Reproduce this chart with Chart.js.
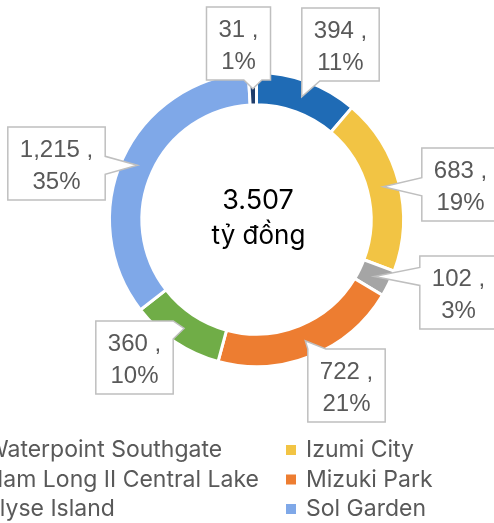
<!DOCTYPE html>
<html>
<head>
<meta charset="utf-8">
<script src="https://cdn.jsdelivr.net/npm/chart.js@4.4.1/dist/chart.umd.min.js"></script>
<style>
  html, body { margin: 0; padding: 0; background: #fff; overflow: hidden; }
  #wrap { width: 494px; height: 523px; }
</style>
</head>
<body>
<div id="wrap"><canvas id="donutChart" width="494" height="523"></canvas></div>
<script>
// data
const categories = ['Waterpoint Southgate', 'Izumi City', 'Nam Long II Central Lake', 'Mizuki Park', 'Elyse Island', 'Sol Garden', 'Akari City'];
const values = [394, 683, 102, 722, 360, 1215, 31];
const sliceColors = ['#1F6BB5', '#F2C444', '#A5A5A5', '#ED7D31', '#70AD47', '#7FA8E8', '#1F3D6B'];
const centerLines = ['3.507', 'tỷ đồng'];

// callout box centres, relative to the donut centre (layout only)
const labelOffsets = [[84, -175], [204, -35], [202, 73], [90, 166], [-122, 138], [-200, -56], [-18, -176]];

const total = values.reduce((a, b) => a + b, 0);

const calloutPlugin = {
  id: 'callouts',
  afterDatasetsDraw(chart) {
    const ctx = chart.ctx;
    const meta = chart.getDatasetMeta(0);
    const arc0 = meta.data[0];
    const cx = arc0.x, cy = arc0.y;
    ctx.save();
    ctx.font = '24px "Liberation Sans", Arial, sans-serif';
    meta.data.forEach((arc, i) => {
      const tip = arc.tooltipPosition();
      const line1 = values[i].toLocaleString('en-US') + ' ,';
      const line2 = Math.round(values[i] / total * 100) + '%';
      const w = Math.max(ctx.measureText(line1).width, ctx.measureText(line2).width) + 24;
      const h = 73;
      const bx = cx + labelOffsets[i][0] - w / 2;
      const by = cy + labelOffsets[i][1] - h / 2;
      const L = bx, R = bx + w, T = by, B = by + h;
      // pick the edge that faces the anchor
      const ex = { left: L - tip.x, right: tip.x - R, top: T - tip.y, bottom: tip.y - B };
      let side = 'bottom', best = -Infinity;
      for (const k in ex) { if (ex[k] > best) { best = ex[k]; side = k; } }
      const hw = 9;
      const clamp = (v, a, b) => Math.min(Math.max(v, a), b);
      ctx.beginPath();
      if (side === 'bottom') {
        const m = clamp(tip.x, L + hw, R - hw);
        ctx.moveTo(L, T); ctx.lineTo(R, T); ctx.lineTo(R, B);
        ctx.lineTo(m + hw, B); ctx.lineTo(tip.x, tip.y); ctx.lineTo(m - hw, B);
        ctx.lineTo(L, B); ctx.closePath();
      } else if (side === 'top') {
        const m = clamp(tip.x, L + hw, R - hw);
        ctx.moveTo(L, T); ctx.lineTo(m - hw, T); ctx.lineTo(tip.x, tip.y); ctx.lineTo(m + hw, T);
        ctx.lineTo(R, T); ctx.lineTo(R, B); ctx.lineTo(L, B); ctx.closePath();
      } else if (side === 'left') {
        const m = clamp(tip.y, T + hw, B - hw);
        ctx.moveTo(L, T); ctx.lineTo(R, T); ctx.lineTo(R, B); ctx.lineTo(L, B);
        ctx.lineTo(L, m + hw); ctx.lineTo(tip.x, tip.y); ctx.lineTo(L, m - hw); ctx.closePath();
      } else {
        const m = clamp(tip.y, T + hw, B - hw);
        ctx.moveTo(L, T); ctx.lineTo(R, T); ctx.lineTo(R, m - hw); ctx.lineTo(tip.x, tip.y);
        ctx.lineTo(R, m + hw); ctx.lineTo(R, B); ctx.lineTo(L, B); ctx.closePath();
      }
      ctx.fillStyle = '#FFFFFF';
      ctx.fill();
      ctx.strokeStyle = '#BFBFBF';
      ctx.lineWidth = 1.5;
      ctx.stroke();
      ctx.fillStyle = '#595959';
      ctx.textAlign = 'center';
      ctx.textBaseline = 'alphabetic';
      const mx = bx + w / 2;
      ctx.fillText(line1, mx, by + 30);
      ctx.fillText(line2, mx, by + 62);
    });
    ctx.restore();
  }
};

const centerPlugin = {
  id: 'centerText',
  afterDraw(chart) {
    const ctx = chart.ctx;
    const arc0 = chart.getDatasetMeta(0).data[0];
    ctx.save();
    ctx.fillStyle = '#000000';
    ctx.textAlign = 'center';
    ctx.font = '27px Inter, sans-serif';
    ctx.fillText(centerLines[0], arc0.x + 1.5, arc0.y - 10.5);
    ctx.font = '26px Inter, sans-serif';
    ctx.fillText(centerLines[1], arc0.x + 2, arc0.y + 24.5);
    ctx.restore();
  }
};

const legendPlugin = {
  id: 'twoColLegend',
  afterDraw(chart) {
    const ctx = chart.ctx;
    ctx.save();
    ctx.font = '23px Inter, sans-serif';
    ctx.textBaseline = 'alphabetic';
    const left = categories.filter((_, i) => i % 2 === 0);
    const maxW = Math.max(...left.map(t => ctx.measureText(t).width));
    const col2Marker = 286;
    const col1Marker = col2Marker - 27 - maxW - 20;
    categories.forEach((name, i) => {
      const row = Math.floor(i / 2), col = i % 2;
      const y = 457 + row * 29.5;
      const mx = col ? col2Marker : col1Marker;
      ctx.fillStyle = sliceColors[i];
      ctx.fillRect(mx, y - 12, 10, 10);
      ctx.fillStyle = '#595959';
      ctx.fillText(name, mx + 20, y);
    });
    ctx.restore();
  }
};

const ctxDonut = document.getElementById('donutChart').getContext('2d');
const donutChart = new Chart(ctxDonut, {
  type: 'doughnut',
  data: {
    labels: categories,
    datasets: [{
      data: values,
      backgroundColor: sliceColors,
      borderColor: '#FFFFFF',
      borderWidth: 3
    }]
  },
  options: {
    responsive: false,
    animation: false,
    cutout: '78%',
    layout: {
      padding: { left: 108, top: 71, right: 89, bottom: 155 }
    },
    plugins: {
      legend: { display: false },
      tooltip: { enabled: false }
    }
  },
  plugins: [calloutPlugin, centerPlugin, legendPlugin]
});
</script>
</body>
</html>
